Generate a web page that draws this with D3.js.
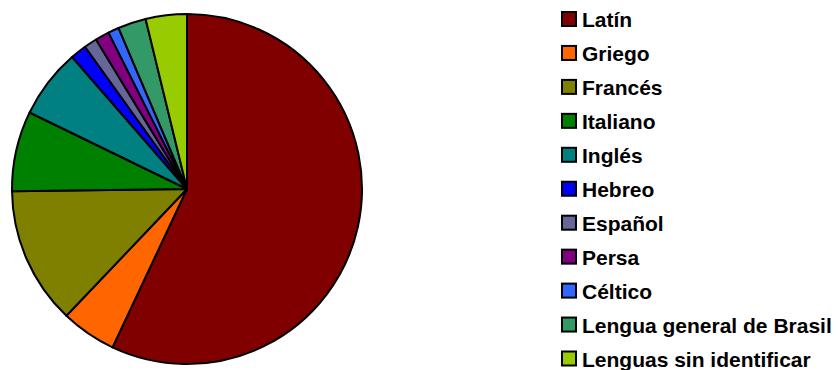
<!DOCTYPE html>
<html>
<head>
<meta charset="utf-8">
<script src="https://cdn.jsdelivr.net/npm/d3@7"></script>
<style>
  html, body { margin: 0; padding: 0; background: #fff; }
  svg { display: block; }
</style>
</head>
<body>
<svg id="chart" width="839" height="370"></svg>
<script>
// Languages and their share (%)
const languages = ["Latín", "Griego", "Francés", "Italiano", "Inglés", "Hebreo",
  "Español", "Persa", "Céltico", "Lengua general de Brasil", "Lenguas sin identificar"];
const shares = [57.0, 5.1, 12.7, 7.4, 6.4, 1.5, 1.2, 1.3, 1.0, 2.6, 3.8];
const colors = ["#800000", "#FF6600", "#808000", "#008000", "#008080", "#0000FF",
  "#666699", "#800080", "#3366FF", "#339966", "#99CC00"];

const data = languages.map((name, i) => ({ name, value: shares[i], color: colors[i] }));

const svg = d3.select("#chart");

const cx = 187, cy = 189, r = 175;

const pie = d3.pie().value(d => d.value).sort(null);
const arc = d3.arc().innerRadius(0).outerRadius(r);

svg.append("g")
  .attr("transform", `translate(${cx},${cy})`)
  .selectAll("path")
  .data(pie(data))
  .join("path")
  .attr("d", arc)
  .attr("fill", d => d.data.color)
  .attr("stroke", "#000")
  .attr("stroke-width", 2)
  .attr("stroke-linejoin", "round");

// Legend
const legendX = 562, firstBaseline = 27, rowStep = 33.95;
const legend = svg.append("g");
const item = legend.selectAll("g")
  .data(data)
  .join("g")
  .attr("transform", (d, i) => `translate(${legendX},${firstBaseline + i * rowStep})`);

item.append("rect")
  .attr("x", 0).attr("y", -15)
  .attr("width", 14).attr("height", 14)
  .attr("fill", d => d.color)
  .attr("stroke", "#000")
  .attr("stroke-width", 2);

item.append("text")
  .attr("x", 20).attr("y", 0)
  .attr("font-family", "'Liberation Sans', Arial, sans-serif")
  .attr("font-weight", "bold")
  .attr("font-size", 21)
  .attr("fill", "#000")
  .text(d => d.name);
</script>
</body>
</html>
